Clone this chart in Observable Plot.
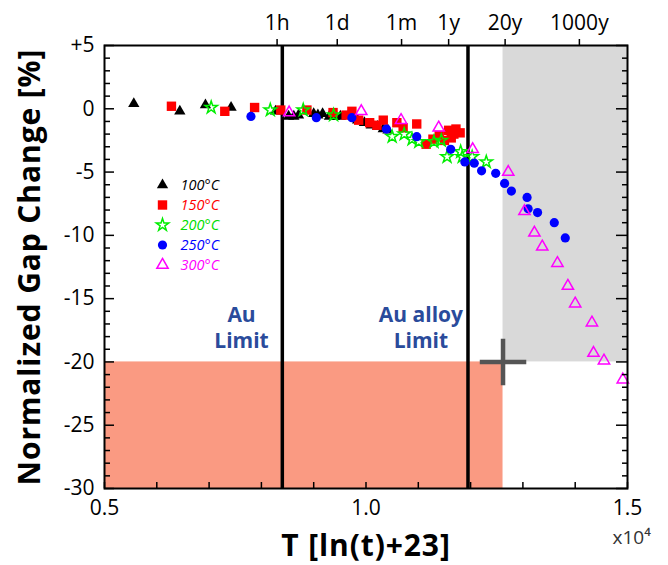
<!DOCTYPE html>
<html><head><meta charset="utf-8">
<script src="https://cdn.jsdelivr.net/npm/d3@7"></script>
<script src="https://cdn.jsdelivr.net/npm/@observablehq/plot@0.6"></script>
<style>body{margin:0;background:#fff;} #chart svg{display:block;} .ttl text{letter-spacing:0.9px;}</style>
</head><body><div id="chart"></div>
<script>
// ---- data (x in units of 10^4) ----
const seriesNames = ["100°C", "150°C", "200°C", "250°C", "300°C"];

const x100 = [0.556, 0.644, 0.693, 0.742, 0.827, 0.852, 0.862, 0.871, 0.900, 0.908, 0.917, 0.930, 0.940, 0.951, 0.984, 0.997, 1.010, 1.022, 1.033, 1.042];
const y100 = [0.4, -0.2, 0.3, 0.1, -0.2, -0.6, -0.6, -0.5, -0.4, -0.5, -0.4, -0.6, -0.6, -0.6, -0.9, -1.1, -1.3, -1.4, -1.6, -1.7];

const x150 = [0.628, 0.730, 0.787, 0.837, 0.887, 0.937, 0.962, 0.973, 0.986, 1.007, 1.021, 1.033, 1.059, 1.071, 1.097, 1.115, 1.128, 1.140, 1.150, 1.158, 1.163, 1.168, 1.172, 1.180];
const y150 = [0.2, -0.2, 0.1, -0.1, -0.1, -0.3, -0.5, -0.2, -0.9, -1.1, -1.3, -0.9, -1.1, -1.5, -1.2, -2.8, -2.4, -2.1, -2.5, -1.7, -2.3, -2.0, -1.6, -1.9];

const x200 = [0.704, 0.817, 0.880, 0.938, 1.050, 1.073, 1.088, 1.101, 1.130, 1.144, 1.155, 1.181, 1.184, 1.203, 1.230];
const y200 = [0.1, -0.1, -0.1, -0.5, -2.2, -2.0, -2.4, -2.6, -2.6, -2.5, -3.8, -3.4, -3.8, -3.8, -4.2];

const x250 = [0.780, 0.905, 0.973, 1.039, 1.097, 1.162, 1.189, 1.207, 1.221, 1.248, 1.265, 1.278, 1.308, 1.310, 1.328, 1.360, 1.381];
const y250 = [-0.6, -0.7, -0.7, -1.6, -2.2, -3.2, -4.2, -4.3, -4.9, -5.1, -5.9, -6.5, -7.0, -7.9, -8.2, -9.0, -10.2];

const x300 = [0.853, 0.991, 1.067, 1.139, 1.204, 1.272, 1.303, 1.322, 1.337, 1.366, 1.386, 1.400, 1.432, 1.435, 1.455, 1.491];
const y300 = [-0.3, -0.2, -0.9, -1.5, -3.2, -5.0, -8.1, -9.8, -10.9, -12.2, -14.0, -15.4, -16.9, -19.3, -19.9, -21.4];

const xDomain = [0.5, 1.5];
const yDomain = [-30, 5];
const bottomTickLabels = [0.5, 1.0, 1.5];
const yTickLabels = [5, 0, -5, -10, -15, -20, -25, -30];
const topTickValues = [0.830, 0.945, 1.068, 1.158, 1.266, 1.408];
const topTickLabels = ["1h", "1d", "1m", "1y", "20y", "1000y"];

const limitLines = [0.840, 1.195];
const limitLabels = ["Au\nLimit", "Au alloy\nLimit"];
const limitLabelX = [0.762, 1.105];
const limitLabelY = [-17.2, -17.2];

const gapSpec = -20;      // normalized gap change spec
const lifeSpec = 1.262;   // lifetime spec (T)

// ---- styles ----
const styles = [
  {symbol: "triangle", fill: "#000000", stroke: "none", r: 4.2, color: "#000000"},
  {symbol: "square", fill: "#FF0000", stroke: "none", r: 5.3, color: "#FF0000"},
  {symbol: "star", fill: "none", stroke: "#00EE00", r: 3.9, color: "#00DD00"},
  {symbol: "circle", fill: "#0000FF", stroke: "none", r: 4.6, color: "#0000FF"},
  {symbol: "triangle", fill: "none", stroke: "#FF00FF", r: 4.2, color: "#FF00FF"}
];
const xs = [x100, x150, x200, x250, x300];
const ys = [y100, y150, y200, y250, y300];
const series = seriesNames.map((name, k) => xs[k].map((x, i) => ({name, x, y: ys[k][i]})));

const topLabelMap = new Map(topTickValues.map((v, i) => [v, topTickLabels[i]]));
const limitTable = limitLabels.map((t, i) => ({t, x: limitLabelX[i], y: limitLabelY[i]}));

const font = "'Open Sans', 'Noto Sans', sans-serif";

const marks = [
  // salmon and gray regions
  Plot.rect([0], {x1: () => xDomain[0], x2: () => lifeSpec, y1: () => yDomain[0], y2: () => gapSpec, fill: "#FA9A82"}),
  Plot.rect([0], {x1: () => lifeSpec, x2: () => xDomain[1], y1: () => gapSpec, y2: () => yDomain[1], fill: "#D9D9D9"}),
  // limit lines
  Plot.ruleX(limitLines, {stroke: "#000", strokeWidth: 3.5}),
  // limit labels
  Plot.text(limitTable, {x: "x", y: "y", text: "t", fill: "#2A4B9B", fontSize: 21, fontWeight: "bold", lineHeight: 1.25, fontFamily: font}),
];

// data points
series.forEach((data, k) => {
  const s = styles[k];
  marks.push(Plot.dot(data, {x: "x", y: "y", symbol: () => s.symbol, fill: s.fill, stroke: s.stroke, strokeWidth: 1.5, r: s.r}));
});

// spec point
marks.push(Plot.dot([0], {x: () => lifeSpec, y: () => gapSpec, symbol: "plus", stroke: "#555", strokeWidth: 4.5, r: 15}));

// legend (inside plot, pixel offsets)
seriesNames.forEach((name, k) => {
  const s = styles[k];
  marks.push(Plot.dot([name], {frameAnchor: "top-left", dx: 58, dy: 139.5 + k * 20, symbol: s.symbol, fill: s.fill, stroke: s.stroke, strokeWidth: 1.5, r: s.r}));
  marks.push(Plot.text([name], {frameAnchor: "top-left", dx: 76, dy: 139.5 + k * 20, text: d => d, textAnchor: "start", lineAnchor: "middle", fill: s.color, fontSize: 14.5, fontStyle: "italic", fontFamily: font}));
});

// frame
marks.push(Plot.frame({stroke: "#000", strokeWidth: 2}));

// axes
const minorY = d3.range(-30, 6, 1).filter(d => d % 5 !== 0);
const majorY = d3.range(-30, 6, 5);
const ticksX = d3.range(5, 16).map(d => d / 10);
marks.push(
  Plot.axisY(yTickLabels, {anchor: "left", tickSize: 0, tickPadding: 10, tickFormat: d => d > 0 ? "+" + d : String(d), fontSize: 21, fontFamily: font, label: null}),
  Plot.axisY(minorY, {anchor: "left", tickSize: -6, text: null, label: null, strokeWidth: 1.5}),
  Plot.axisY(majorY, {anchor: "left", tickSize: -10, text: null, label: null, strokeWidth: 1.5}),
  Plot.axisY(minorY, {anchor: "right", tickSize: -6, text: null, label: null, strokeWidth: 1.5}),
  Plot.axisY(majorY, {anchor: "right", tickSize: -12, text: null, label: null, strokeWidth: 1.5}),
  Plot.axisX(ticksX, {anchor: "bottom", tickSize: -6, text: null, label: null, strokeWidth: 1.5}),
  Plot.axisX(bottomTickLabels, {anchor: "bottom", tickSize: 0, tickPadding: 12, tickFormat: d3.format(".1f"), fontSize: 21, fontFamily: font, label: null}),
  Plot.axisX(topTickValues, {anchor: "top", tickSize: 7, tickPadding: 9, tickFormat: d => topLabelMap.get(d), fontSize: 21, fontFamily: font, label: null, strokeWidth: 1.5}),
  // axis titles
  Plot.text(["Normalized Gap Change [%]"], {className: "ttl", frameAnchor: "left", dx: -74, rotate: -90, textAnchor: "middle", text: d => d, fontSize: 30, fontWeight: "bold", fontFamily: font, fill: "#000"}),
  Plot.text(["T [ln(t)+23]"], {className: "ttl", frameAnchor: "bottom", dy: 67, text: d => d, fontSize: 30, fontWeight: "bold", fontFamily: font, fill: "#000"}),
  Plot.text(["x10⁴"], {frameAnchor: "bottom-right", dx: -15, dy: 55, text: d => d, textAnchor: "start", fontSize: 19, fontFamily: font, fill: "#333"})
);

const chart = Plot.plot({
  width: 668,
  height: 565,
  marginLeft: 104,
  marginRight: 41,
  marginTop: 45,
  marginBottom: 77,
  style: {background: "#fff", fontFamily: font, overflow: "visible"},
  x: {domain: xDomain},
  y: {domain: yDomain},
  marks
});
document.getElementById("chart").appendChild(chart);
</script>
</body></html>
